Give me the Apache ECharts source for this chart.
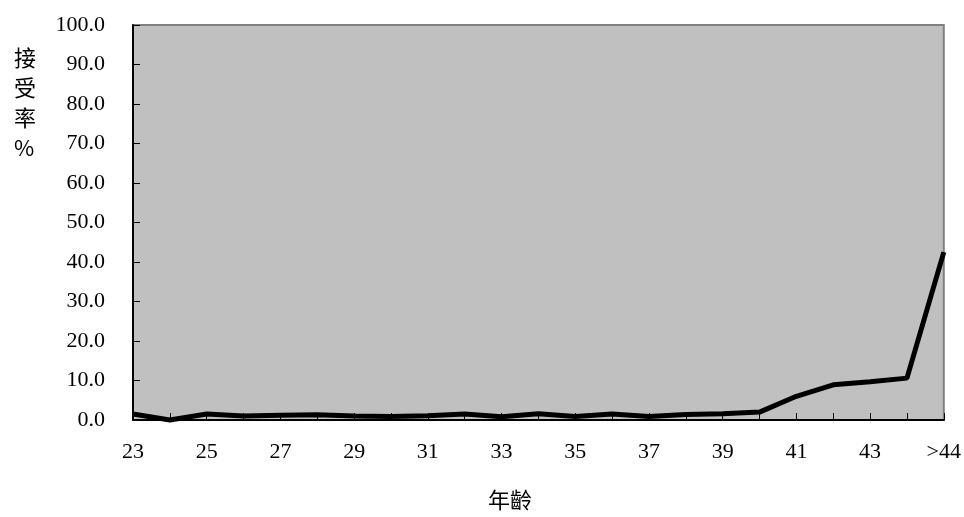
<!DOCTYPE html>
<html>
<head>
<meta charset="utf-8">
<script src="https://cdn.jsdelivr.net/npm/echarts@6/dist/echarts.min.js"></script>
<style>
  html, body { margin: 0; padding: 0; background: #ffffff; }
  #chart { width: 964px; height: 517px; }
</style>
</head>
<body>
<div id="chart"></div>
<script>
// Age groups along the x axis
const ages = ['23','24','25','26','27','28','29','30','31','32','33','34','35','36','37','38','39','40','41','42','43','44','>44'];
// Acceptance rate (%) per age group
const acceptRate = [1.5, 0.0, 1.5, 1.0, 1.2, 1.3, 1.0, 0.9, 1.1, 1.5, 0.8, 1.6, 0.9, 1.5, 0.9, 1.4, 1.6, 2.0, 6.0, 8.9, 9.7, 10.6, 42.5];
// Value axis range
const yMin = 0, yMax = 100, yStep = 10;

const numFont = '"Liberation Serif", "Noto Sans CJK TC", serif';
const cjkFont = '"Noto Sans CJK TC", "Noto Sans CJK SC", sans-serif';

const chart = echarts.init(document.getElementById('chart'), null, { renderer: 'canvas' });
chart.setOption({
  animation: false,
  backgroundColor: '#ffffff',
  grid: {
    left: 133, right: 17, top: 25, bottom: 97,
    show: true,
    backgroundColor: '#c0c0c0',
    borderColor: '#808080',
    borderWidth: 2
  },
  xAxis: {
    type: 'category',
    data: ages,
    boundaryGap: false,
    axisLine: { lineStyle: { color: '#000000', width: 2 } },
    axisTick: { inside: true, length: 7, interval: 0, lineStyle: { color: '#000000', width: 1 } },
    axisLabel: {
      interval: 1,
      margin: 21,
      color: '#000000',
      fontFamily: numFont,
      fontSize: 22
    },
    splitLine: { show: false }
  },
  yAxis: {
    type: 'value',
    min: yMin, max: yMax, interval: yStep,
    axisLine: { show: true, lineStyle: { color: '#000000', width: 2 } },
    axisTick: { show: true, inside: true, length: 7, lineStyle: { color: '#000000', width: 1 } },
    axisLabel: {
      margin: 28,
      color: '#000000',
      fontFamily: numFont,
      fontSize: 22,
      formatter: v => v.toFixed(1)
    },
    splitLine: { show: false }
  },
  graphic: [
    {
      type: 'text',
      left: 14, top: 43,
      style: {
        text: '接\n受\n率\n%',
        fill: '#000000',
        font: '22px ' + cjkFont,
        lineHeight: 30,
        align: 'center'
      }
    },
    {
      type: 'text',
      left: 488, top: 489,
      style: {
        text: '年齡',
        fill: '#000000',
        font: '22px ' + cjkFont
      }
    }
  ],
  series: [{
    type: 'line',
    data: acceptRate,
    symbol: 'none',
    lineStyle: { color: '#000000', width: 5 },
    clip: false
  }]
});
</script>
</body>
</html>
